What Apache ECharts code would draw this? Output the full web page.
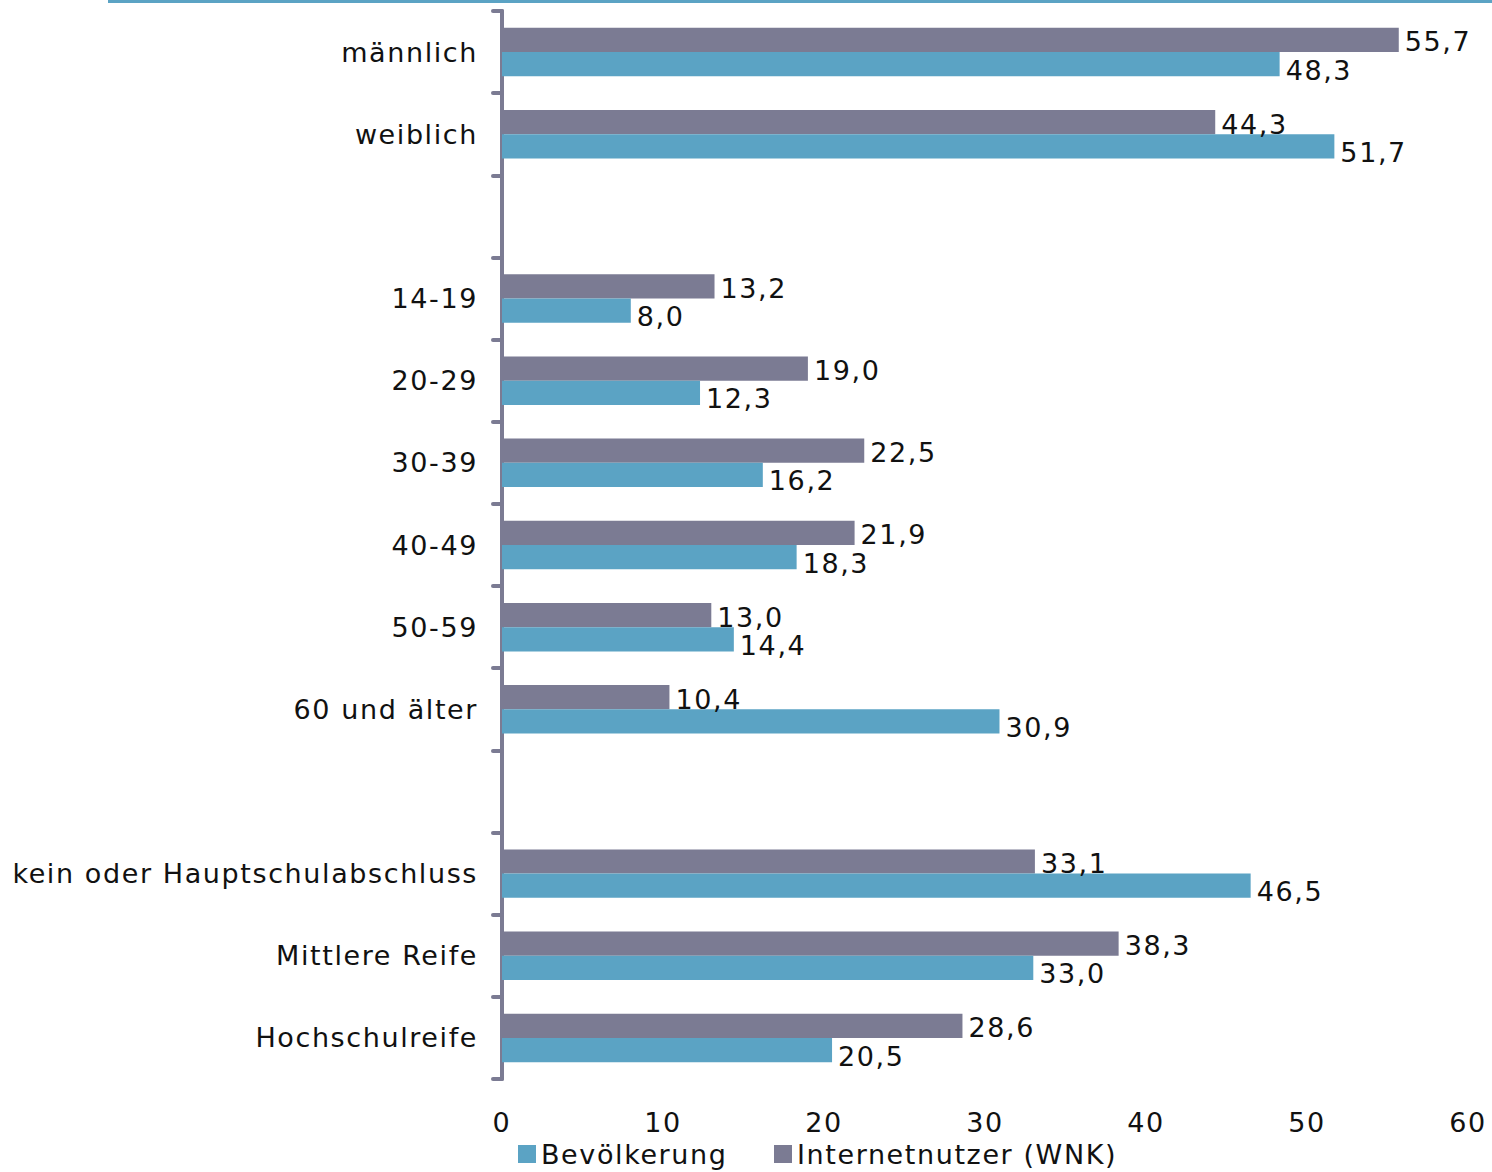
<!DOCTYPE html>
<html>
<head>
<meta charset="utf-8">
<script src="https://cdn.jsdelivr.net/npm/echarts@6/dist/echarts.min.js"></script>
<style>
html,body{margin:0;padding:0;background:#fff;}
#chart{width:1492px;height:1172px;}
#chart text{letter-spacing:1.6px;}
</style>
</head>
<body>
<div id="chart"></div>
<script>
const categories = ['männlich','weiblich','','14-19','20-29','30-39','40-49','50-59','60 und älter','','kein oder Hauptschulabschluss','Mittlere Reife','Hochschulreife'];
const bevoelkerung = [48.3, 51.7, null, 8.0, 12.3, 16.2, 18.3, 14.4, 30.9, null, 46.5, 33.0, 20.5];
const internetnutzer = [55.7, 44.3, null, 13.2, 19.0, 22.5, 21.9, 13.0, 10.4, null, 33.1, 38.3, 28.6];
const xTicks = [0, 10, 20, 30, 40, 50, 60];

const FONT = 'DejaVu Sans';
const FS = 27;
const blue = '#5ba3c4';
const gray = '#7b7b93';
const fmt = p => p.value == null ? '' : p.value.toFixed(1).replace('.', ',');

const chart = echarts.init(document.getElementById('chart'), null, {renderer: 'svg'});
const legendCommon = {
  top: 1138, padding: 0, itemWidth: 18, itemHeight: 18, icon: 'rect', itemGap: 8,
  textStyle: {fontSize: FS, color: '#111', fontFamily: FONT, lineHeight: 32}
};
chart.setOption({
  animation: false,
  textStyle: {fontFamily: FONT},
  graphic: [{type: 'rect', shape: {x: 108, y: 0, width: 1384, height: 3}, style: {fill: blue}}],
  grid: {left: 502, right: 24, top: 11, bottom: 93, containLabel: false},
  legend: [
    Object.assign({left: 518, data: ['Bevölkerung']}, legendCommon),
    Object.assign({left: 774, data: ['Internetnutzer (WNK)']}, legendCommon)
  ],
  xAxis: {
    type: 'value', min: 0, max: 60, interval: 10,
    axisLine: {show: false}, axisTick: {show: false}, splitLine: {show: false},
    axisLabel: {fontSize: FS, color: '#111', margin: 30, fontFamily: FONT,
      formatter: v => xTicks.includes(v) ? String(v) : ''}
  },
  yAxis: {
    type: 'category', data: categories, inverse: true,
    axisLine: {show: true, lineStyle: {color: gray, width: 4, cap: 'round'}},
    axisTick: {show: true, inside: false, length: 9, lineStyle: {color: gray, width: 4, cap: 'round'}},
    axisLabel: {fontSize: FS, color: '#111', margin: 24, fontFamily: FONT}
  },
  series: [
    {
      name: 'Internetnutzer (WNK)', type: 'bar', data: internetnutzer,
      itemStyle: {color: gray}, barGap: '0%', barCategoryGap: '41%',
      label: {show: true, position: 'right', distance: 6, fontSize: FS, color: '#111', fontFamily: FONT, formatter: fmt, offset: [0, 2]}
    },
    {
      name: 'Bevölkerung', type: 'bar', data: bevoelkerung,
      itemStyle: {color: blue}, barGap: '0%', barCategoryGap: '41%',
      label: {show: true, position: 'right', distance: 6, fontSize: FS, color: '#111', fontFamily: FONT, formatter: fmt, offset: [0, 6]}
    }
  ]
});
</script>
</body>
</html>
